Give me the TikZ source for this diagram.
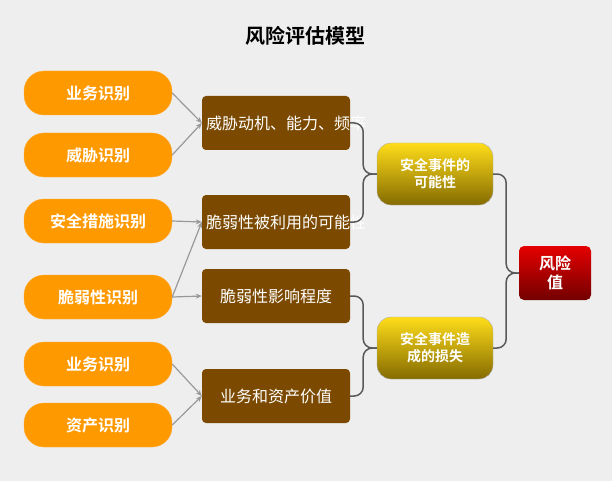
\documentclass[tikz,border=0pt]{standalone}
\usepackage{fontspec}
\setmainfont{Noto Sans CJK SC}[BoldFont={Noto Sans CJK SC Bold}]
\usetikzlibrary{arrows.meta}
\definecolor{bg}{HTML}{EEEEEE}
\definecolor{org}{HTML}{FF9900}
\definecolor{brn}{HTML}{7B4A00}
\tikzset{
 pill/.style={draw=org!80!white,fill=org,rounded corners=20,minimum width=148,minimum height=44,text=white,font=\bfseries\fontsize{16}{18}\selectfont},
 brbox/.style={fill=brn,rounded corners=4,minimum width=148,minimum height=54,text=white,align=center,text width=140,font=\fontsize{16}{19}\selectfont},
 ybox/.style={draw=gray!60,rounded corners=14,minimum width=116,minimum height=62,top color=yellow!70!orange!90!white,bottom color=yellow!40!black!80!orange,text=white,align=center,font=\bfseries\fontsize{14}{17}\selectfont},
 rbox/.style={rounded corners=5,minimum width=72,minimum height=54,top color=red!90!black,bottom color=red!45!black,text=white,align=center,font=\bfseries\fontsize{16}{19}\selectfont},
 arr/.style={draw=gray!80,line width=1.2,-{Stealth[length=6,width=5]}},
 con/.style={draw=gray!70!black,line width=1.5,rounded corners=9}
}
\begin{document}
\begin{tikzpicture}[x=1pt,y=-1pt]
\fill[bg] (0,0) rectangle (612,481);
\useasboundingbox (0,0) rectangle (612,481);
\node[font=\bfseries\fontsize{20}{22}\selectfont] (t) at (305,36) {风险评估模型};
\node[pill] (p1) at (98,93) {业务识别};
\node[pill] (p2) at (98,155) {威胁识别};
\node[pill] (p3) at (98,221) {安全措施识别};
\node[pill] (p4) at (98,297) {脆弱性识别};
\node[pill] (p5) at (98,364) {业务识别};
\node[pill] (p6) at (98,425) {资产识别};
\node[brbox] (b1) at (276,123) {威胁动机、能力、频率};
\node[brbox] (b2) at (276,222) {脆弱性被利用的可能性};
\node[brbox] (b3) at (276,296) {脆弱性影响程度};
\node[brbox] (b4) at (276,396) {业务和资产价值};
\node[ybox] (y1) at (435,174) {安全事件的\\可能性};
\node[ybox] (y2) at (435,348) {安全事件造\\成的损失};
\node[rbox] (r) at (555,273) {风险\\值};
\draw[arr] (p1.east) -- (b1.west);
\draw[arr] (p2.east) -- (b1.west);
\draw[arr] (p3.east) -- (b2.west);
\draw[arr] (p4.east) -- (b2.west);
\draw[arr] (p4.east) -- (b3.west);
\draw[arr] (p5.east) -- (b4.west);
\draw[arr] (p6.east) -- (b4.west);
\draw[con] (b1.east) -- ++(13,0) |- (y1.west);
\draw[con] (b2.east) -- ++(13,0) |- (y1.west);
\draw[con] (b3.east) -- ++(13,0) |- (y2.west);
\draw[con] (b4.east) -- ++(13,0) |- (y2.west);
\draw[con] (y1.east) -- ++(13,0) |- (r.west);
\draw[con] (y2.east) -- ++(13,0) |- (r.west);
\end{tikzpicture}
\end{document}
